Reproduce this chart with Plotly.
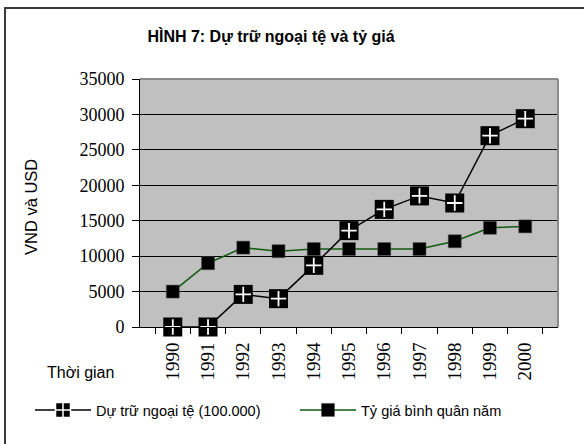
import plotly.graph_objects as go

years = ["1990", "1991", "1992", "1993", "1994", "1995", "1996", "1997", "1998", "1999", "2000"]
reserves = [0, 0, 4600, 4000, 8700, 13600, 16600, 18500, 17500, 27000, 29400]
exchange_rate = [5000, 9000, 11200, 10700, 11000, 11000, 11000, 11000, 12100, 14000, 14200]
y_ticks = [0, 5000, 10000, 15000, 20000, 25000, 30000, 35000]

SANS = "Liberation Sans, Arial, sans-serif"
SERIF = "Liberation Serif, Times New Roman, serif"
GREEN = "#0f5a0f"

fig = go.Figure()

fig.add_trace(go.Scatter(
    x=years, y=exchange_rate, name="Tỷ giá bình quân năm", mode="lines+markers",
    line=dict(color=GREEN, width=1.5),
    marker=dict(symbol="square", size=13, color="black", line=dict(width=0.5, color="#555")),
    legendrank=2, cliponaxis=False,
))
fig.add_trace(go.Scatter(
    x=years, y=reserves, name="Dự trữ ngoại tệ (100.000)", mode="lines+markers",
    line=dict(color="black", width=1.5),
    marker=dict(symbol="square-cross", size=15, color="black", line=dict(width=1.5, color="white")),
    legendrank=1, cliponaxis=False,
))
fig.add_trace(go.Scatter(
    x=years, y=reserves, mode="markers", showlegend=False, hoverinfo="skip",
    marker=dict(symbol="square", size=19, color="black", line=dict(width=0)),
    cliponaxis=False,
))
fig.add_trace(go.Scatter(
    x=years, y=reserves, mode="markers", showlegend=False, hoverinfo="skip",
    marker=dict(symbol="cross-thin", size=11, color="white", line=dict(width=1.8, color="white")),
    cliponaxis=False,
))

L, R, T, B = 140, 26, 79, 117
W, H = 584, 444
pw, ph = W - L - R, H - T - B

def px_x(x):
    return (x - L) / pw

def px_y(y):
    return (H - B - y) / ph

fig.update_layout(
    width=W, height=H,
    margin=dict(l=L, r=R, t=T, b=B),
    paper_bgcolor="white",
    plot_bgcolor="#c0c0c0",
    title=dict(
        text="HÌNH 7: Dự trữ ngoại tệ và tỷ giá",
        font=dict(family="Liberation Sans Narrow, " + SANS, size=16, color="black", weight="bold"),
        x=271 / W, xref="container", xanchor="center",
        y=1 - 36 / H, yref="container", yanchor="middle",
    ),
    xaxis=dict(
        type="category", tickson="boundaries", ticks="outside", ticklen=6,
        tickcolor="black", showline=True, linecolor="black", linewidth=1,
        showgrid=False, tickangle=-90, ticklabelstandoff=7,
        tickfont=dict(family=SERIF, size=19, color="black"),
    ),
    yaxis=dict(
        range=[0, 35000], tickvals=y_ticks, tickformat="d", ticks="outside", ticklen=7,
        tickcolor="black", showline=True, linecolor="black", linewidth=1,
        showgrid=True, gridcolor="black", gridwidth=1, zeroline=False,
        ticklabelstandoff=4,
        tickfont=dict(family=SERIF, size=18, color="black"),
    ),
    legend=dict(
        orientation="h", x=px_x(30), xanchor="left", y=px_y(410), yanchor="middle",
        font=dict(family=SANS, size=14.5, color="black"),
        bgcolor="rgba(0,0,0,0)", itemwidth=56,
        entrywidth=194, entrywidthmode="pixels",
    ),
    showlegend=True,
    annotations=[
        dict(text="VND và USD", xref="paper", yref="paper", x=px_x(31), y=px_y(207),
             textangle=-90, showarrow=False, xanchor="center", yanchor="middle",
             font=dict(family=SANS, size=16.5, color="black")),
        dict(text="Thời gian", xref="paper", yref="paper", x=px_x(80), y=px_y(372),
             showarrow=False, xanchor="center", yanchor="middle",
             font=dict(family=SANS, size=16, color="black")),
    ],
    shapes=[
        dict(type="rect", xref="paper", yref="paper", x0=px_x(5), y0=px_y(460),
             x1=px_x(600), y1=px_y(8), line=dict(color="#3a3a3a", width=2), layer="above"),
        dict(type="line", xref="paper", yref="paper", x0=0, x1=1, y0=1, y1=1,
             line=dict(color="#8a8a8a", width=2), layer="above"),
        dict(type="line", xref="paper", yref="paper", x0=1, x1=1, y0=0, y1=1,
             line=dict(color="#8a8a8a", width=2), layer="above"),
    ],
)

fig.write_html(
    "out.html",
    config={"displayModeBar": False},
    post_script="document.body.style.margin='0';document.body.style.overflow='hidden';",
)
